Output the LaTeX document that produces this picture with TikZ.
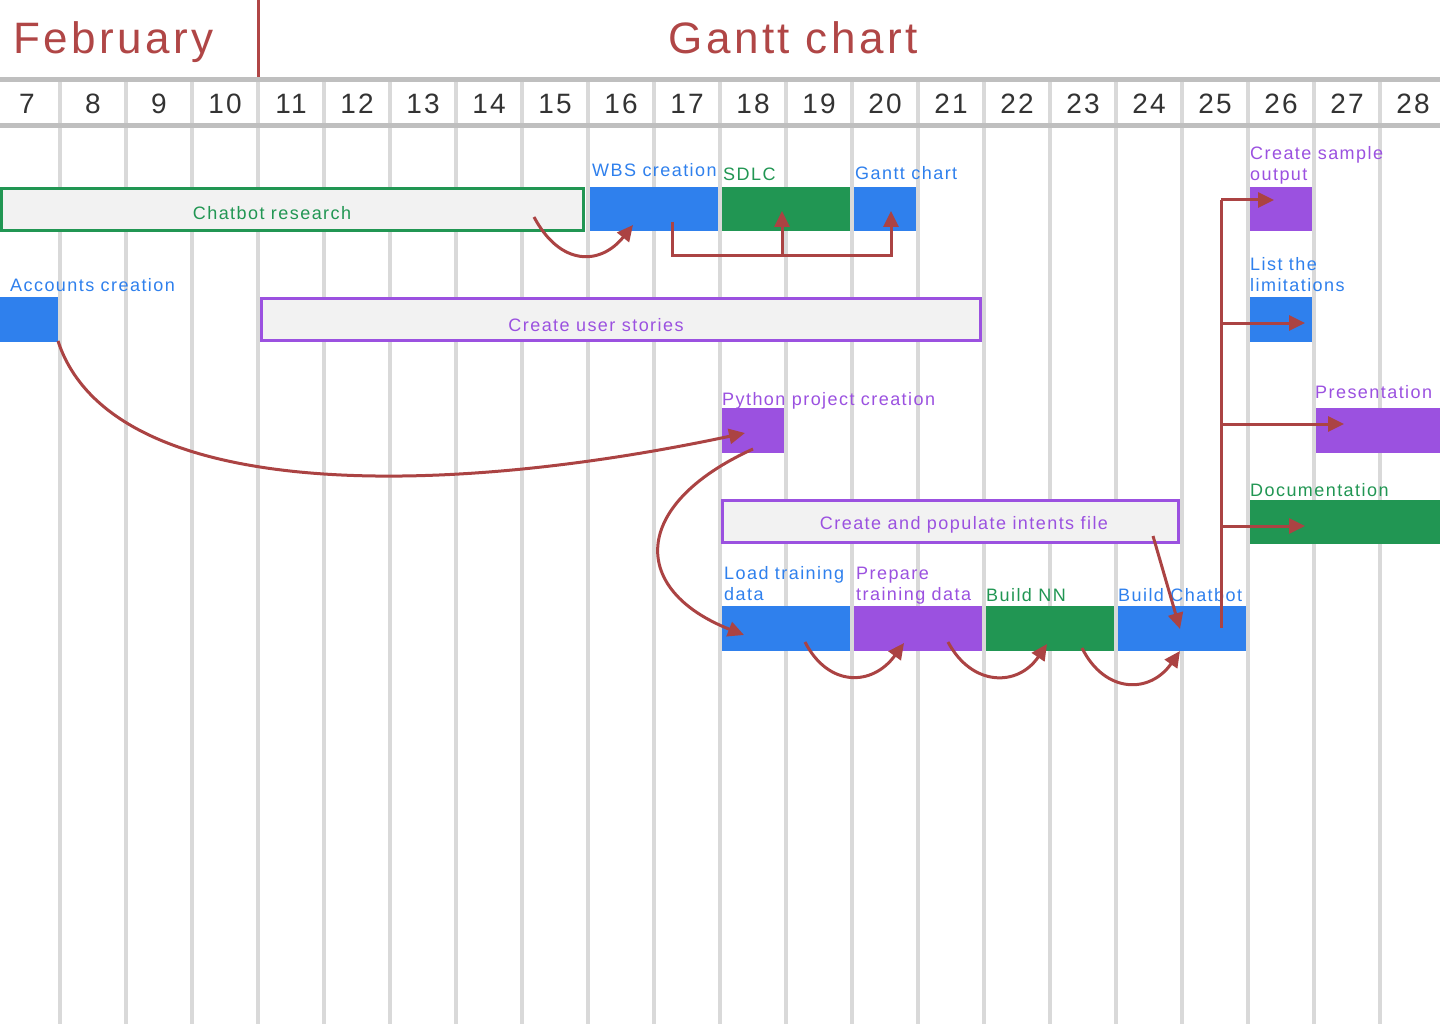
\documentclass[tikz,border=0pt]{standalone}
\usepackage{fontspec}
\setmainfont{Liberation Sans}[LetterSpace=8]
\usetikzlibrary{arrows.meta}
\definecolor{cblue}{HTML}{2F80ED}
\definecolor{cgreen}{HTML}{219653}
\definecolor{cpurple}{HTML}{9B51E0}
\definecolor{cred}{HTML}{AB4343}
\definecolor{ctitle}{HTML}{B04646}
\definecolor{cfill}{HTML}{F2F2F2}
\definecolor{cband}{HTML}{BFBFBF}
\definecolor{cgrid}{HTML}{D9D9D9}
\definecolor{cdigit}{HTML}{333333}
\begin{document}
\begin{tikzpicture}[x=1pt,y=-1pt,
  bar/.style={anchor=north west, inner sep=0pt, outer sep=0pt, minimum height=45pt},
  obox/.style={inner sep=0pt, outer sep=0pt, draw, line width=3pt, fill=cfill,
    font=\fontsize{18}{21}\selectfont},
  lab/.style={anchor=base west, inner sep=0pt, font=\fontsize{18}{21}\selectfont},
  lab2/.style={anchor=south west, inner sep=0pt, text depth=0pt, align=left,
    font=\fontsize{18}{21}\selectfont},
  dayl/.style={anchor=base, inner sep=0pt, text=cdigit, font=\fontsize{28}{30}\selectfont},
  ttl/.style={inner sep=0pt, text=ctitle, font=\fontsize{44}{50}\selectfont},
  dep/.style={draw=cred, line width=3pt, -{Triangle[length=16pt,width=15pt]}},
  trunk/.style={draw=cred, line width=3pt}]
\useasboundingbox (0,0) rectangle (1440,1024);
\fill[white] (0,0) rectangle (1440,1024);
% grid
\foreach \i in {0,...,20} \draw[cgrid, line width=4pt] (60+66*\i,80) -- (60+66*\i,1024);
\fill[cband] (0,77) rectangle (1440,82);
\fill[cband] (0,123) rectangle (1440,128);
\draw[ctitle, line width=3pt] (258,0) -- (258,77);
% titles
\node[ttl, anchor=base west] (tfeb) at (13,54) {February};
\node[ttl, anchor=base] (tgantt) at (793,54) {Gantt chart};
% day numbers
\foreach \d in {7,...,28} \node[dayl] (day\d) at (93+66*\d-528,114) {\d};
% outlined boxes
\node[obox, draw=cgreen, text=cgreen, minimum width=582pt, minimum height=42pt] (research) at (292.5,209.5) {};
\node[lab, anchor=base, text=cgreen] (researchl) at (272,220) {Chatbot research};
\node[obox, draw=cpurple, text=cpurple, minimum width=719pt, minimum height=42pt] (stories) at (621,319.5) {};
\node[lab, anchor=base, text=cpurple] (storiesl) at (596,331) {Create user stories};
\node[obox, draw=cpurple, text=cpurple, minimum width=456pt, minimum height=42pt] (intents) at (950.5,521.5) {};
\node[lab, anchor=base, text=cpurple] (intentsl) at (964,529) {Create and populate intents file};
% bars
\node[bar, fill=cblue, minimum width=128pt, minimum height=44pt] (wbs) at (590,187) {};
\node[bar, fill=cgreen, minimum width=128pt, minimum height=44pt] (sdlc) at (722,187) {};
\node[bar, fill=cblue, minimum width=62pt, minimum height=44pt] (gantt) at (854,187) {};
\node[bar, fill=cblue, minimum width=58pt] (accounts) at (0,297) {};
\node[bar, fill=cpurple, minimum width=62pt] (python) at (722,408) {};
\node[bar, fill=cblue, minimum width=128pt] (load) at (722,606) {};
\node[bar, fill=cpurple, minimum width=128pt] (prepare) at (854,606) {};
\node[bar, fill=cgreen, minimum width=128pt] (buildnn) at (986,606) {};
\node[bar, fill=cblue, minimum width=128pt] (buildcb) at (1118,606) {};
\node[bar, fill=cpurple, minimum width=62pt, minimum height=44pt] (sample) at (1250,187) {};
\node[bar, fill=cblue, minimum width=62pt] (limits) at (1250,297) {};
\node[bar, fill=cpurple, minimum width=124pt] (present) at (1316,408) {};
\node[bar, fill=cgreen, minimum width=190pt, minimum height=44pt] (docs) at (1250,500) {};
% labels
\node[lab, text=cblue] (wbsl) at (592,177) {WBS creation};
\node[lab, text=cgreen] (sdlcl) at (723,181) {SDLC};
\node[lab, text=cblue] (ganttl) at (855,180) {Gantt chart};
\node[lab, text=cblue] (accountsl) at (10,291) {Accounts creation};
\node[lab, text=cpurple] (pythonl) at (722,405) {Python project creation};
\node[lab2, text=cblue] (loadl) at (724,601) {Load training\\data};
\node[lab2, text=cpurple] (preparel) at (856,601) {Prepare\\training data};
\node[lab, text=cgreen] (buildnnl) at (986,601) {Build NN};
\node[lab, text=cblue] (buildcbl) at (1118,601) {Build Chatbot};
\node[lab2, text=cpurple] (samplel) at (1250,181) {Create sample\\output};
\node[lab2, text=cblue] (limitsl) at (1250,292) {List the\\limitations};
\node[lab, text=cpurple] (presentl) at (1315,398) {Presentation};
\node[lab, text=cgreen] (docsl) at (1250,496) {Documentation};
% connector end points
\coordinate (a1s) at (534,217);
\coordinate (a1e) at (633,225);
\coordinate (a2s) at (672,222);
\coordinate (a2c) at (782,256);
\coordinate (a2t1) at (782,211);
\coordinate (a2t2) at (891,211);
\coordinate (a3s) at (58,341);
\coordinate (a3e) at (745,433);
\coordinate (a4s) at (753,449);
\coordinate (a4e) at (744,635);
\coordinate (a5s) at (805,642);
\coordinate (a5e) at (904,643);
\coordinate (a6s) at (948,642);
\coordinate (a6e) at (1047,644);
\coordinate (a7s) at (1082,648);
\coordinate (a7e) at (1180,651);
\coordinate (a8s) at (1153,536);
\coordinate (a8e) at (1180,629);
\coordinate (a9s) at (1221,628);
\coordinate (j1) at (1221,200);
\coordinate (j2) at (1221,323);
\coordinate (j3) at (1221,424);
\coordinate (j4) at (1221,526);
\coordinate (t1) at (1274,200);
\coordinate (t2) at (1305,323);
\coordinate (t3) at (1344,424);
\coordinate (t4) at (1305,526);
% connectors
\draw[dep] (a1s) .. controls (560,266) and (600,266) .. (a1e);
\draw[trunk] (a2s) |- (a2c);
\draw[dep] (a2s) |- (a2t2 |- a2c) -- (a2t2);
\draw[dep] (a2c) -- (a2t1);
\draw[dep] (a3s) .. controls (110,500) and (430,500) .. (a3e);
\draw[dep] (a4s) .. controls (630,505) and (630,590) .. (a4e);
\draw[dep] (a5s) .. controls (828,687) and (872,687) .. (a5e);
\draw[dep] (a6s) .. controls (972,687) and (1018,687) .. (a6e);
\draw[dep] (a7s) .. controls (1105,694) and (1150,694) .. (a7e);
\draw[dep] (a8s) -- (a8e);
\draw[trunk] (a9s) -- (j1);
\draw[dep] (j1) -- (t1);
\draw[dep] (j2) -- (t2);
\draw[dep] (j3) -- (t3);
\draw[dep] (j4) -- (t4);
\end{tikzpicture}
\end{document}
